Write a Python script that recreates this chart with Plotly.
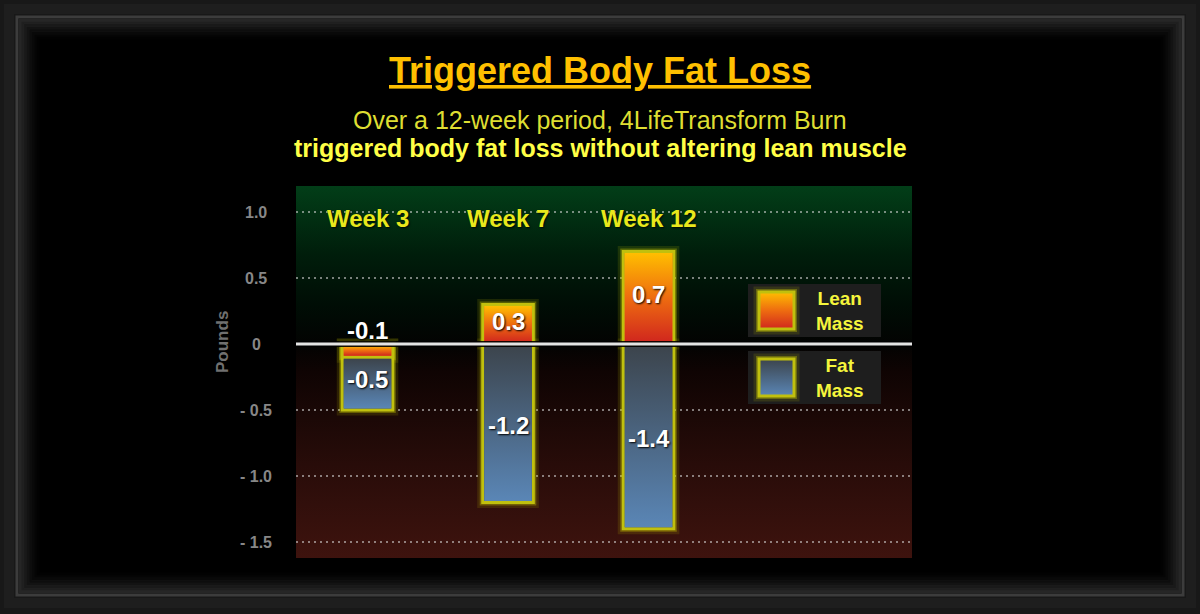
import plotly.graph_objects as go

# ---- data -------------------------------------------------------------
weeks = ["Week 3", "Week 7", "Week 12"]
lean_mass = [-0.1, 0.3, 0.7]      # change in lean mass (lb)
fat_mass = [-0.5, -1.2, -1.4]     # change in fat mass (lb)
y_tick_vals = [1.0, 0.5, 0, -0.5, -1.0, -1.5]
y_tick_text = ["1.0", "0.5", "0", "- 0.5", "- 1.0", "- 1.5"]
legend_names = ["Lean<br>Mass", "Fat<br>Mass"]

# ---- layout geometry (pixels) -----------------------------------------
W, H = 1200, 614
PL, PR, PT, PB = 296, 912, 186, 558
X_RANGE = [-0.509, 3.875]
Y_RANGE = [-1.621, 1.197]
BAR_W = 0.36

FONT = "Liberation Sans, Arial, sans-serif"
LEAN_SCALE = [[0, "rgb(208,38,30)"], [0.5, "rgb(238,108,16)"], [1, "rgb(255,190,0)"]]
FAT_SCALE = [[0, "rgb(90,134,182)"], [1, "rgb(60,68,76)"]]
BG_SCALE = [[0, "rgb(62,19,14)"], [0.25, "rgb(40,12,9)"], [0.5, "rgb(15,4,3)"],
            [0.575, "rgb(3,3,2)"], [0.68, "rgb(0,13,5)"], [0.82, "rgb(0,30,11)"],
            [1, "rgb(2,62,24)"]]
OUTLINE = "rgb(192,192,14)"
GLOWS = [("rgba(200,200,0,0.14)", 11), ("rgba(215,215,0,0.32)", 6)]


def dx(px):
    return X_RANGE[0] + (px - PL) / (PR - PL) * (X_RANGE[1] - X_RANGE[0])


def dy(py):
    return Y_RANGE[1] - (py - PT) / (PB - PT) * (Y_RANGE[1] - Y_RANGE[0])


def qx(px):
    return (px - PL) / (PR - PL)


def qy(py):
    return (PB - py) / (PB - PT)


def rect_xy(x0, x1, y0, y1):
    # one extra vertex so the stroke joins cleanly at the starting corner
    return [x0, x1, x1, x0, x0, x1], [y0, y0, y1, y1, y0, y0]


fig = go.Figure()

# plot-area background gradient
bx, by = rect_xy(X_RANGE[0], X_RANGE[1], Y_RANGE[0], Y_RANGE[1])
fig.add_trace(go.Scatter(x=bx, y=by, mode="lines", fill="toself", line=dict(width=0),
                         fillgradient=dict(type="vertical", colorscale=BG_SCALE),
                         hoverinfo="skip", showlegend=False))

# dotted gridlines
for v in y_tick_vals:
    if v == 0:
        continue
    fig.add_trace(go.Scatter(x=[X_RANGE[0], X_RANGE[1]], y=[v, v], mode="lines",
                             line=dict(color="rgba(215,215,215,0.75)", width=1.6, dash="2px,4px"),
                             hoverinfo="skip", showlegend=False))

# legend panels
legend_boxes = [(748, 881, 284, 337), (748, 881, 351, 404)]
legend_swatches = [(759, 794, 292, 329), (759, 794, 359, 396)]
legend_scales = [LEAN_SCALE, FAT_SCALE]
for (x0, x1, y0, y1) in legend_boxes:
    lx, ly = rect_xy(dx(x0), dx(x1), dy(y0), dy(y1))
    fig.add_trace(go.Scatter(x=lx, y=ly, mode="lines", fill="toself", line=dict(width=0),
                             fillcolor="rgb(30,30,30)", hoverinfo="skip", showlegend=False))
for (x0, x1, y0, y1), scale in zip(legend_swatches, legend_scales):
    sx, sy = rect_xy(dx(x0), dx(x1), dy(y0), dy(y1))
    for gc, gw in GLOWS:
        fig.add_trace(go.Scatter(x=sx, y=sy, mode="lines", line=dict(color=gc, width=gw),
                                 hoverinfo="skip", showlegend=False))
    fig.add_trace(go.Scatter(x=sx, y=sy, mode="lines", fill="toself",
                             line=dict(color=OUTLINE, width=3),
                             fillgradient=dict(type="vertical", colorscale=scale),
                             hoverinfo="skip", showlegend=False))

# ---- bars (overlay subplot so they sit above the background) -----------
idx = list(range(len(weeks)))
for vals, scale in ((fat_mass, FAT_SCALE), (lean_mass, LEAN_SCALE)):
    for gc, gw in GLOWS:
        fig.add_trace(go.Bar(x=idx, y=vals, width=BAR_W, xaxis="x2", yaxis="y2",
                             marker=dict(color="rgba(0,0,0,0)", line=dict(color=gc, width=gw)),
                             hoverinfo="skip", showlegend=False))
    fig.add_trace(go.Bar(x=idx, y=vals, width=BAR_W, xaxis="x2", yaxis="y2",
                         marker=dict(color=scale[len(scale) // 2][1],
                                     line=dict(color=OUTLINE, width=3)),
                         hoverinfo="skip", showlegend=False))

# gradient fills inside each bar
ix = 1.5 * (X_RANGE[1] - X_RANGE[0]) / (PR - PL)
iy = 1.5 * (Y_RANGE[1] - Y_RANGE[0]) / (PB - PT)


def bar_fill(i, top, bottom, scale):
    hi, lo = max(top, bottom), min(top, bottom)
    fx, fy = rect_xy(i - BAR_W / 2 + ix, i + BAR_W / 2 - ix, lo + iy, hi - iy)
    fig.add_trace(go.Scatter(x=fx, y=fy, mode="lines", fill="toself", line=dict(width=0),
                             fillgradient=dict(type="vertical", colorscale=scale),
                             xaxis="x2", yaxis="y2", hoverinfo="skip", showlegend=False))


for i in idx:
    fat_top = min(0, lean_mass[i])
    bar_fill(i, fat_top, fat_mass[i], FAT_SCALE)
for i in idx:
    bar_fill(i, 0, lean_mass[i], LEAN_SCALE)

# ---- annotations -------------------------------------------------------
ann = []
ann.append(dict(text="Triggered Body Fat Loss", x=0.5 * W, y=70, bold=True, size=36,
                color="rgb(255,192,0)", under=True))
ann.append(dict(text="Over a 12-week period, 4LifeTransform Burn", x=0.5 * W, y=120,
                bold=False, size=25, color="rgb(222,222,50)"))
ann.append(dict(text="triggered body fat loss without altering lean muscle", x=0.5 * W,
                y=148, bold=True, size=25, color="rgb(255,255,70)"))

annotations = []
for a in ann:
    txt = "<b>%s</b>" % a["text"] if a["bold"] else a["text"]
    font = dict(family=FONT, size=a["size"], color=a["color"])
    if a.get("under"):
        font["lineposition"] = "under"
    annotations.append(dict(text=txt, xref="paper", yref="paper", x=qx(a["x"]), y=qy(a["y"]),
                            xanchor="center", yanchor="middle", showarrow=False, font=font))

# week labels
for i, w in enumerate(weeks):
    annotations.append(dict(text="<b>%s</b>" % w, xref="x", yref="paper", x=i, y=qy(218),
                            xanchor="center", yanchor="middle", showarrow=False,
                            font=dict(family=FONT, size=24, color="rgb(232,232,28)",
                                      shadow="1px 1px 2px rgba(0,0,0,0.8)")))

# value labels
VAL_FONT = dict(family=FONT, size=24, color="white", shadow="1px 1px 2px #000")
for i in idx:
    lv, fv = lean_mass[i], fat_mass[i]
    if abs(lv) < 0.2:
        annotations.append(dict(text="<b>%.1f</b>" % lv, xref="x", yref="y", x=i, y=0,
                                yshift=-2, xanchor="center", yanchor="bottom",
                                showarrow=False, font=VAL_FONT))
    else:
        annotations.append(dict(text="<b>%.1f</b>" % lv, xref="x", yref="y", x=i, y=lv / 2,
                                yshift=3, xanchor="center", yanchor="middle", showarrow=False,
                                font=VAL_FONT))
    annotations.append(dict(text="<b>%.1f</b>" % fv, xref="x", yref="y", x=i, y=fv / 2,
                            yshift=-2, xanchor="center", yanchor="middle", showarrow=False,
                            font=VAL_FONT))

# y tick labels, centred in their column
for v, t in zip(y_tick_vals, y_tick_text):
    annotations.append(dict(text="<b>%s</b>" % t, xref="paper", yref="y", x=qx(256), y=v,
                            xanchor="center", yanchor="middle", showarrow=False,
                            font=dict(family=FONT, size=16, color="rgb(135,135,135)")))
annotations.append(dict(text="<b>Pounds</b>", xref="paper", yref="paper", x=qx(222), y=qy(342),
                        textangle=-90, xanchor="center", yanchor="middle", showarrow=False,
                        font=dict(family=FONT, size=17, color="rgb(112,112,112)")))

# legend labels
for (x0, x1, y0, y1), name in zip(legend_boxes, legend_names):
    annotations.append(dict(text="<b>%s</b>" % name, xref="paper", yref="paper",
                            x=qx(840), y=qy((y0 + y1) / 2 + 0.5), xanchor="center",
                            yanchor="middle", showarrow=False,
                            font=dict(family=FONT, size=19, color="rgb(245,245,60)")))

# ---- frame ---------------------------------------------------------------
shapes = []
FX0, FX1, FY0, FY1 = 17, 1183, 17, 595
shapes.append(dict(type="rect", xref="paper", yref="paper", layer="below",
                   x0=qx(FX0 - 8), x1=qx(FX1 + 8), y0=qy(FY1 + 8), y1=qy(FY0 - 8),
                   line=dict(color="rgb(30,30,30)", width=10), fillcolor="rgba(0,0,0,0)"))
shapes.append(dict(type="rect", xref="paper", yref="paper", layer="below",
                   x0=qx(FX0), x1=qx(FX1), y0=qy(FY1), y1=qy(FY0),
                   line=dict(color="rgb(60,60,60)", width=3), fillcolor="black"))
for k in range(8):
    inset = 3 + k * 2.6
    alpha = 0.9 * (1 - k / 8) ** 1.5
    shapes.append(dict(type="rect", xref="paper", yref="paper", layer="below",
                       x0=qx(FX0 + inset), x1=qx(FX1 - inset),
                       y0=qy(FY1 - inset), y1=qy(FY0 + inset),
                       line=dict(color="rgba(42,42,42,%.3f)" % alpha, width=3),
                       fillcolor="rgba(0,0,0,0)"))

# zero line
shapes.append(dict(type="line", xref="paper", yref="y", x0=0, x1=1, y0=0, y1=0, layer="above",
                   line=dict(color="rgba(0,0,0,0.9)", width=6)))
shapes.append(dict(type="line", xref="paper", yref="y", x0=0, x1=1, y0=0, y1=0, layer="above",
                   line=dict(color="rgb(228,228,228)", width=3)))

axis_off = dict(showgrid=False, zeroline=False, showline=False, showticklabels=False,
                ticks="", fixedrange=True)
fig.update_layout(
    width=W, height=H,
    margin=dict(l=PL, r=W - PR, t=PT, b=H - PB, pad=0),
    paper_bgcolor="rgb(24,24,24)",
    plot_bgcolor="rgba(0,0,0,0)",
    barmode="overlay",
    showlegend=False,
    xaxis=dict(range=X_RANGE, **axis_off),
    yaxis=dict(range=Y_RANGE, **axis_off),
    xaxis2=dict(range=X_RANGE, overlaying="x", **axis_off),
    yaxis2=dict(range=Y_RANGE, overlaying="y", **axis_off),
    annotations=annotations,
    shapes=shapes,
)

fig.write_html("out.html", config=dict(displayModeBar=False))
